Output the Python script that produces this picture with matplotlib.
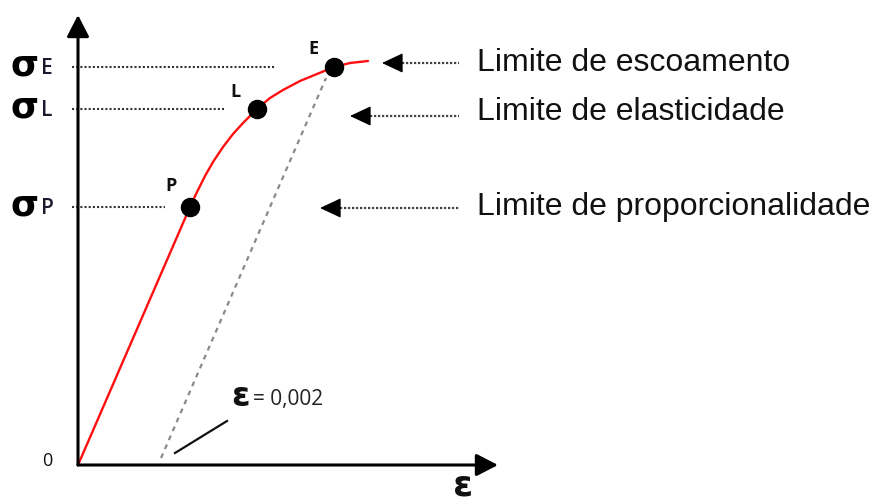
import matplotlib
matplotlib.use("Agg")
import matplotlib.pyplot as plt

# stress-strain curve (strain, stress in MPa)
strain = [0.0, 0.0028, 0.002975, 0.003175, 0.003375, 0.003625, 0.003875,
          0.004125, 0.004475, 0.0048, 0.005125, 0.00555, 0.005975, 0.0064,
          0.0068, 0.00725]
stress = [0, 258, 273, 289, 303, 318, 331, 342, 356, 367, 375, 384, 391,
          398, 402, 404]

# marked points: proportionality, elastic and yield limits
point_names = ["P", "L", "E"]
point_strain = [0.0028, 0.004475, 0.0064]
point_stress = [258, 356, 398]

offset_strain = 0.002
modulus = point_stress[0] / point_strain[0]

limit_labels = ["Limite de proporcionalidade", "Limite de elasticidade",
                "Limite de escoamento"]

fig = plt.figure(figsize=(8.75, 5.04), dpi=100)
ax = fig.add_axes([0, 0, 1, 1])
ax.set_xlim(-0.00195, 0.019925)
ax.set_ylim(-39, 465)
ax.axis("off")

# axes with arrow heads
head = dict(arrowstyle="-|>,head_length=0.66,head_width=0.34", color="black",
            lw=2.2, shrinkA=0, shrinkB=0, mutation_scale=20)
ax.annotate("", xy=(0, 450), xytext=(0, 0), arrowprops=head)
ax.annotate("", xy=(0.0105, 0), xytext=(0, 0), arrowprops=head)

# 0.2 % offset line
off_s = [7, 387]
off_e = [offset_strain + s / modulus for s in off_s]
ax.plot(off_e, off_s, color="#8a8a8a", lw=1.6, ls=(0, (2.2, 2.2)))

# curve and points
ax.plot(strain, stress, color="#ff1010", lw=1.7, solid_capstyle="round",
        solid_joinstyle="round")
ax.plot(point_strain, point_stress, "o", color="black", ms=13)

label_dx = [-0.000475, -0.00055, -0.000525]
label_dy = [21, 17, 18]
for name, e, s, dx, dy in zip(point_names, point_strain, point_stress, label_dx, label_dy):
    ax.text(e + dx, s + dy, name, ha="center", va="center", fontsize=13,
            family="Open Sans", weight="bold", color="#111111")

# stress level guides and sigma labels
guide_gap = [0.000625, 0.000825, 0.001475]
for name, e, s, gap in zip(point_names, point_strain, point_stress, guide_gap):
    ax.plot([-0.00015, e - gap], [s, s], color="#333333", lw=1.5, ls=(0, (1, 1)))
    ax.text(-0.00168, s + 1, "σ", ha="left", va="center", fontsize=26,
            family="DejaVu Sans", weight="bold", color="black")
    ax.text(-0.00093, s - 2, name, ha="left", va="center", fontsize=15,
            family="Open Sans", weight="semibold", color="#1a1a2e")

# right-hand captions with dotted arrows
arrow_tip = [0.00605, 0.0068, 0.0076]
arrow_y = [257, 349, 402]
text_y = [258, 353, 402]
for lab, tip, ay, ty in zip(limit_labels, arrow_tip, arrow_y, text_y):
    ax.plot([tip + 0.0004, 0.009525], [ay, ay], color="#444444", lw=1.6,
            ls=(0, (1, 0.8)))
    ax.annotate("", xy=(tip, ay), xytext=(tip + 0.00045, ay),
                arrowprops=dict(arrowstyle="-|>,head_length=0.66,head_width=0.31",
                                color="black", lw=1, shrinkA=0, shrinkB=0,
                                mutation_scale=20))
    ax.text(0.009975, ty, lab, ha="left", va="center", fontsize=23,
            family="Liberation Sans", color="#111111")

# offset annotation
ax.plot([0.002425, 0.003725], [12, 44], color="#111111", lw=1.6)
ax.text(0.00383, 69, "ε", ha="left", va="center", fontsize=24,
        family="DejaVu Sans", weight="bold", color="#111111")
ax.text(0.00437, 65, "= 0,002", ha="left", va="center", fontsize=15,
        family="Open Sans", color="#222222")

ax.text(-0.00076, 4, "0", ha="center", va="center", fontsize=13,
        family="Open Sans", color="#111111")
ax.text(0.009625, -37.5, "ε", ha="center", va="bottom", fontsize=26,
        family="DejaVu Sans", weight="bold", color="#111111")

fig.savefig("out.png", dpi=100)
